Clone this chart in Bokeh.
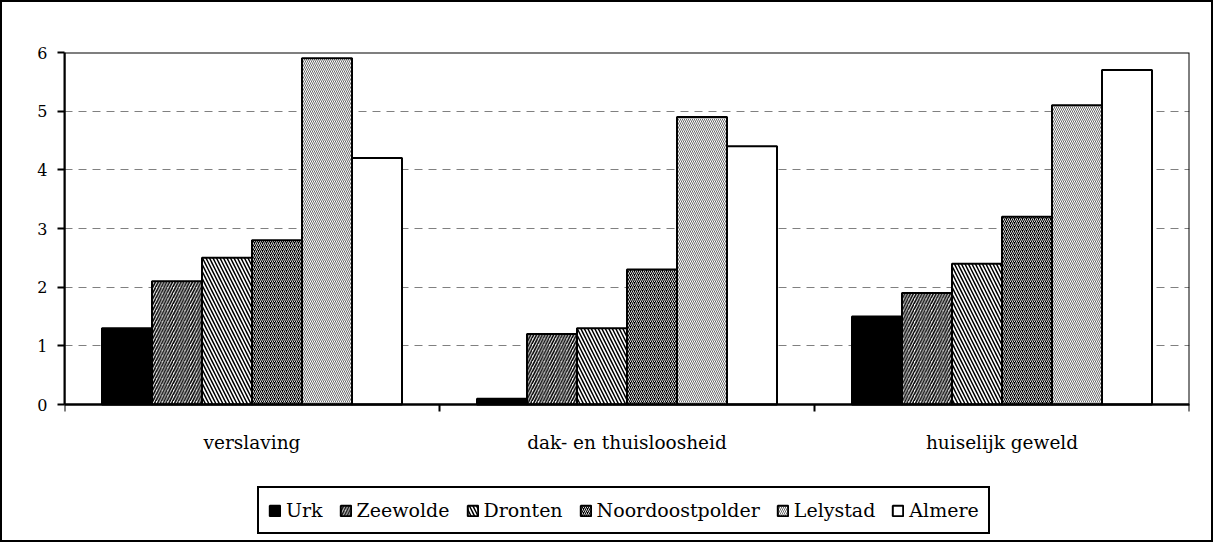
from bokeh.plotting import figure
from bokeh.models import (FixedTicker, Legend, LegendItem, ColumnDataSource, Range1d,
                          LinearAxis, BoxAnnotation)
from bokeh.transform import dodge
from bokeh.embed import file_html
from bokeh.resources import INLINE

categories = ["verslaving", "dak- en thuisloosheid", "huiselijk geweld"]
series = ["Urk", "Zeewolde", "Dronten", "Noordoostpolder", "Lelystad", "Almere"]
urk = [1.3, 0.1, 1.5]
zeewolde = [2.1, 1.2, 1.9]
dronten = [2.5, 1.3, 2.4]
noordoostpolder = [2.8, 2.3, 3.2]
lelystad = [5.9, 4.9, 5.1]
almere = [4.2, 4.4, 5.7]
y_ticks = [0, 1, 2, 3, 4, 5, 6]

values = [urk, zeewolde, dronten, noordoostpolder, lelystad, almere]

FONT = "DejaVu Serif"

data = {"x": [i + 0.5 for i in range(len(categories))]}
for name, vals in zip(series, values):
    data[name] = vals
src = ColumnDataSource(data)

# layout: plot area 1125 x 352 px for 0..6; extra frame space below holds labels + legend
YMAX = y_ticks[-1]
px_per_unit = 352 / YMAX
extra_px = 132
y_lo = -extra_px / px_per_unit

p = figure(frame_width=1125, frame_height=352 + extra_px, output_backend="svg",
           toolbar_location=None, x_axis_location=None,
           x_range=Range1d(0, len(categories)), y_range=Range1d(y_lo, YMAX),
           min_border_left=62, min_border_top=50, min_border_right=22,
           min_border_bottom=4)
p.styles = {"border": "2px solid black"}
p.background_fill_color = "white"
p.outline_line_color = None

styles = [
    dict(fill_color="black"),
    dict(fill_color="white", hatch_pattern="/", hatch_color="black", hatch_scale=5.7, hatch_weight=1.6),
    dict(fill_color="white", hatch_pattern="\\", hatch_color="black", hatch_scale=7, hatch_weight=1.5),
    dict(fill_color="black", hatch_pattern="/", hatch_color="#d8d8d8", hatch_scale=4, hatch_weight=1.0),
    dict(fill_color="white", hatch_pattern="\\", hatch_color="#444444", hatch_scale=4, hatch_weight=0.8),
    dict(fill_color="white"),
]

# grid
p.xgrid.grid_line_color = None
p.ygrid.ticker = FixedTicker(ticks=y_ticks)
p.ygrid.grid_line_color = "#808080"
p.ygrid.grid_line_dash = "8 6"
p.ygrid.grid_line_width = 1

n = len(series)
bw = 0.8 / n
items = []
for k, (name, st) in enumerate(zip(series, styles)):
    off = (k - (n - 1) / 2) * bw
    r = p.vbar(x=dodge("x", off, range=p.x_range), top=name, width=bw, bottom=0,
               source=src, line_color="black", line_width=2, **st)
    items.append(LegendItem(label=name, renderers=[r]))

# plot-area border
p.add_layout(BoxAnnotation(left=0, right=len(categories), bottom=0, top=YMAX,
                           fill_color=None, line_color="black", line_width=2, line_alpha=1))

# x axis at y = 0 inside the frame
tick_pos = [i + 0.5 for i in range(len(categories))]
xaxis = LinearAxis(fixed_location=0,
                   ticker=FixedTicker(ticks=tick_pos, minor_ticks=list(range(len(categories) + 1))),
                   major_label_overrides={t: c for t, c in zip(tick_pos, categories)})
xaxis.major_tick_line_color = None
xaxis.minor_tick_line_color = "black"
xaxis.minor_tick_line_width = 2
xaxis.minor_tick_out = 7
xaxis.minor_tick_in = 0
xaxis.major_label_standoff = 20
xaxis.axis_line_width = 2
xaxis.axis_line_color = "black"
xaxis.major_label_text_font_size = "18.5px"
p.add_layout(xaxis, "below")

p.yaxis.ticker = FixedTicker(ticks=y_ticks)
p.yaxis.bounds = (0, YMAX)
p.yaxis.minor_tick_line_color = None
p.yaxis.major_tick_out = 7
p.yaxis.major_tick_in = 0
p.yaxis.major_tick_line_width = 2
p.yaxis.axis_line_width = 2
p.yaxis.major_label_standoff = 10
p.yaxis.major_label_text_font_size = "16px"

for ax in (xaxis, p.yaxis[0]):
    ax.major_label_text_font = FONT
    ax.major_label_text_color = "black"

legend = Legend(items=items, orientation="horizontal", location=(193, 2),
                border_line_color="black", border_line_width=2, border_line_alpha=1,
                label_text_font=FONT, label_text_font_size="19px", label_text_color="black",
                glyph_width=13, glyph_height=13, label_standoff=5, spacing=16,
                padding=9, margin=0, label_height=26,
                background_fill_color="white", background_fill_alpha=1)
p.add_layout(legend)

open("out.html", "w").write(file_html(p, INLINE))
